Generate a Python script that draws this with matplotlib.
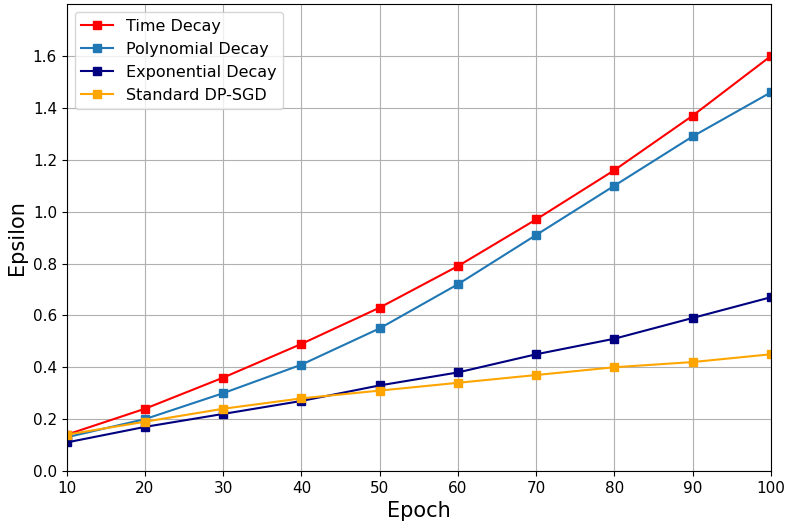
import matplotlib.pyplot as plt

epochs = [10, 20, 30, 40, 50, 60, 70, 80, 90, 100]
time_decay = [0.14, 0.24, 0.36, 0.49, 0.63, 0.79, 0.97, 1.16, 1.37, 1.60]
poly_decay = [0.13, 0.20, 0.30, 0.41, 0.55, 0.72, 0.91, 1.10, 1.29, 1.46]
exp_decay = [0.11, 0.17, 0.22, 0.27, 0.33, 0.38, 0.45, 0.51, 0.59, 0.67]
standard = [0.14, 0.19, 0.24, 0.28, 0.31, 0.34, 0.37, 0.40, 0.42, 0.45]

fig, ax = plt.subplots(figsize=(7.85, 5.21), dpi=100)
ax.plot(epochs, time_decay, marker="s", markersize=6, color="red", label="Time Decay")
ax.plot(epochs, poly_decay, marker="s", markersize=6, color="#1f77b4", label="Polynomial Decay")
ax.plot(epochs, exp_decay, marker="s", markersize=6, color="navy", label="Exponential Decay")
ax.plot(epochs, standard, marker="s", markersize=6, color="orange", label="Standard DP-SGD")

ax.set_xlim(10, 100)
ax.set_ylim(0, 1.8)
ax.set_xticks(epochs)
ax.set_yticks([0.0, 0.2, 0.4, 0.6, 0.8, 1.0, 1.2, 1.4, 1.6])
ax.tick_params(labelsize=11)
ax.set_xlabel("Epoch", fontsize=15)
ax.set_ylabel("Epsilon", fontsize=15)
ax.grid(True, color="#b0b0b0", linewidth=0.8)
ax.legend(loc="upper left", fontsize=11.5)

fig.subplots_adjust(left=0.085, right=0.982, top=0.992, bottom=0.096)
fig.savefig("out.png")
